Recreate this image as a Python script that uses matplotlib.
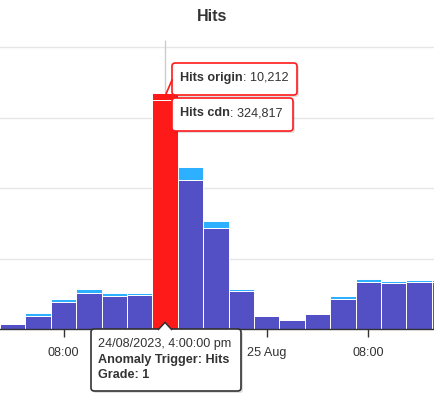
import matplotlib
matplotlib.use("Agg")
import matplotlib.pyplot as plt
import matplotlib.dates as mdates
from matplotlib.patches import FancyBboxPatch, Polygon
import pandas as pd

plt.rcParams['font.family'] = ['Liberation Sans', 'DejaVu Sans']

# dados
horas = ["2023-08-24 04:00", "2023-08-24 06:00", "2023-08-24 08:00", "2023-08-24 10:00",
         "2023-08-24 12:00", "2023-08-24 14:00", "2023-08-24 16:00", "2023-08-24 18:00",
         "2023-08-24 20:00", "2023-08-24 22:00", "2023-08-25 00:00", "2023-08-25 02:00",
         "2023-08-25 04:00", "2023-08-25 06:00", "2023-08-25 08:00", "2023-08-25 10:00",
         "2023-08-25 12:00", "2023-08-25 14:00"]
hits_cdn = [7100, 18300, 38700, 51500, 46300, 48800, 324817, 212000, 144000, 54000,
            18900, 13200, 20900, 42500, 66500, 65800, 66600, 66500]
hits_origin = [0, 4000, 3300, 5300, 4300, 3000, 10212, 18500, 9800, 3000,
               0, 0, 0, 3800, 4800, 3000, 3600, 3600]
anomalia = "2023-08-24 16:00"

roxo = '#5350c6'
azul = '#2db0ff'
vermelho = '#ff1a1a'
texto = '#333333'

W, H = 434, 399
fig = plt.figure(figsize=(W / 100, H / 100), dpi=100)

def px(x, y):
    return (x / W, 1 - y / H)

base = 329
topo = 329 - 4.1 * 70.4
ax = fig.add_axes([0, (H - base) / H, 1, (base - topo) / H])

t = pd.to_datetime(horas)
x = mdates.date2num(t)
largura = 2 / 24
cores_cdn = [vermelho if h == anomalia else roxo for h in horas]
cores_origin = [vermelho if h == anomalia else azul for h in horas]

ax.bar(x, hits_cdn, width=largura, color=cores_cdn, edgecolor='white', linewidth=0.7, zorder=2)
ax.bar(x, hits_origin, bottom=hits_cdn, width=largura, color=cores_origin,
       edgecolor='white', linewidth=0.7, zorder=2)

ia = horas.index(anomalia)
xa = x[ia]
total_a = hits_cdn[ia] + hits_origin[ia]
ax.vlines(xa, total_a, 410000, color='#cccccc', linewidth=1, zorder=1)

ax.set_xlim(mdates.date2num(pd.Timestamp("2023-08-24 03:00")),
            mdates.date2num(pd.Timestamp("2023-08-25 13:10")))
ax.set_ylim(0, 410000)
ax.set_yticks([100000, 200000, 300000, 400000])
ax.yaxis.grid(True, color='#e6e6e6', linewidth=1)
ax.set_axisbelow(True)
ax.tick_params(axis='y', left=False, labelleft=False)
for s in ['top', 'right', 'left']:
    ax.spines[s].set_visible(False)
ax.spines['bottom'].set_color(texto)
ax.spines['bottom'].set_linewidth(1)
ax.spines['bottom'].set_zorder(3)

ax.xaxis.set_major_locator(mdates.HourLocator(byhour=[0, 8, 16]))

def fmt(v, pos):
    d = mdates.num2date(v)
    if d.hour == 0:
        return d.strftime('%d %b').lstrip('0')
    if d.hour == 16:
        return ''  # fica escondido atrás do tooltip
    return d.strftime('%H:%M')

ax.xaxis.set_major_formatter(plt.FuncFormatter(fmt))
ax.tick_params(axis='x', length=5.8, width=1, color=texto, labelcolor=texto,
               labelsize=9.1, pad=7)

fig.text(212 / W, 1 - 16.5 / H, 'Hits', ha='center', va='center', fontsize=11.5,
         fontweight='bold', color=texto)

def caixa(x0, y0, x1, y1, borda):
    sombra = FancyBboxPatch(px(x0 + 2, y1 + 2), (x1 - x0) / W, (y1 - y0) / H,
                            boxstyle='round,pad=0,rounding_size=0.008',
                            transform=fig.transFigure, facecolor='#000000', alpha=0.12,
                            edgecolor='none', zorder=4)
    b = FancyBboxPatch(px(x0, y1), (x1 - x0) / W, (y1 - y0) / H,
                       boxstyle='round,pad=0,rounding_size=0.008',
                       transform=fig.transFigure, facecolor='white', edgecolor=borda,
                       linewidth=1.2, zorder=5)
    fig.add_artist(sombra)
    fig.add_artist(b)

renderer = fig.canvas.get_renderer()

def linha_mista(xp, yp, negrito, normal):
    t1 = fig.text(*px(xp, yp), negrito, ha='left', va='center', fontsize=9.1,
                  fontweight='bold', color=texto, zorder=6)
    bb = t1.get_window_extent(renderer=renderer)
    fig.text(bb.x1 / W, 1 - yp / H, normal, ha='left', va='center', fontsize=9.1,
             color=texto, zorder=6)

# tooltips das séries
caixa(172, 63, 297, 95, vermelho)
caixa(172, 98, 293, 131, vermelho)
fig.add_artist(plt.Line2D([166 / W, 172 / W], [1 - 94 / H, 1 - 80 / H],
                          transform=fig.transFigure, color=vermelho, linewidth=1.2, zorder=6))
linha_mista(180, 78, 'Hits origin', ': {:,}'.format(hits_origin[ia]))
linha_mista(180, 113, 'Hits cdn', ': {:,}'.format(hits_cdn[ia]))

# tooltip da anomalia
caixa(91, 329, 241, 391, texto)
ponta = Polygon([px(158, 330), px(165, 322.5), px(172, 330)], closed=False,
                transform=fig.transFigure, facecolor='white', edgecolor=texto,
                linewidth=1.2, zorder=5.5)
fig.add_artist(ponta)
fig.add_artist(Polygon([px(159, 330.5), px(165, 324), px(171, 330.5)], closed=True,
                       transform=fig.transFigure, facecolor='white', edgecolor='none',
                       zorder=5.6))
data_txt = pd.Timestamp(anomalia).strftime('%d/%m/%Y, ') + '4:00:00 pm'
fig.text(*px(98, 344), data_txt, ha='left', va='center', fontsize=9.1, color=texto, zorder=6)
fig.text(*px(98, 360), 'Anomaly Trigger: Hits', ha='left', va='center', fontsize=9.1,
         fontweight='bold', color=texto, zorder=6)
fig.text(*px(98, 375), 'Grade: 1', ha='left', va='center', fontsize=9.1,
         fontweight='bold', color=texto, zorder=6)

fig.savefig('out.png', dpi=100)
